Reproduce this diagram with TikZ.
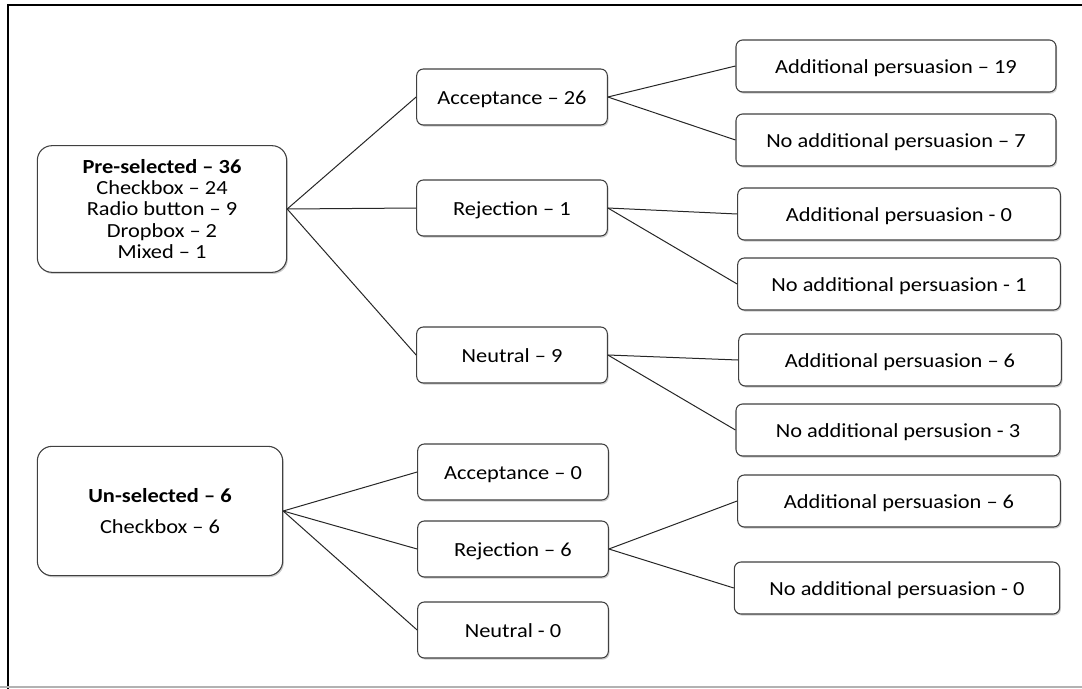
\documentclass[tikz,border=0pt]{standalone}
\usepackage{fontspec}
\setmainfont{Carlito}[FakeStretch=1.12]
\usetikzlibrary{shadows}

\tikzset{
  box/.style={draw=black!75, line width=0.8pt, rounded corners=5pt, fill=white,
    align=center, inner sep=2pt, font=\fontsize{15}{15.8}\selectfont,
    drop shadow={shadow xshift=0.9pt, shadow yshift=-1.2pt, opacity=0.4}},
  midbox/.style={box, minimum width=143pt, minimum height=42pt, text height=1.3em, text depth=0.25em},
  endbox/.style={box, minimum width=240pt, minimum height=39pt, text height=1.3em, text depth=0.25em},
  rootbox/.style={box, rounded corners=11pt, minimum width=185pt, minimum height=95pt},
  link/.style={draw=black!85, line width=0.75pt},
}

\begin{document}
\begin{tikzpicture}[x=0.75pt,y=0.75pt,yscale=-1,xscale=1]
\useasboundingbox (0,0) rectangle (1082,689);

% frame
\draw[line width=1.6pt] (8,689) -- (8,5) -- (1082,5);
\draw[black!30, line width=1.6pt] (0,687) -- (1082,687);

% Pre-selected branch
\node[rootbox, minimum width=187pt] (pre) at (162,209) {\textbf{Pre-selected – 36}\\Checkbox – 24\\Radio button – 9\\Dropbox – 2\\Mixed – 1};

\node[midbox] (accA) at (512,97) {Acceptance – 26};
\node[midbox] (rejA) at (512,208) {Rejection – 1};
\node[midbox] (neuA) at (512,355) {Neutral – 9};

\node[endbox] (accAyes) at (896,66) {Additional persuasion – 19};
\node[endbox] (accAno) at (896,140) {No additional persuasion – 7};
\node[endbox, minimum width=242pt] (rejAyes) at (899,214) {Additional persuasion - 0};
\node[endbox, minimum width=242pt] (rejAno) at (899,284) {No additional persuasion - 1};
\node[endbox, minimum width=242pt] (neuAyes) at (900,360) {Additional persuasion – 6};
\node[endbox, minimum width=243pt] (neuAno) at (898,430) {No additional persusion - 3};

% Un-selected branch
\node[rootbox, minimum width=184pt, minimum height=97pt] (un) at (160,511) {\textbf{Un-selected – 6}\\[8pt]Checkbox – 6};

\node[midbox] (accB) at (513,472) {Acceptance – 0};
\node[midbox] (rejB) at (513,549) {Rejection – 6};
\node[midbox] (neuB) at (513,630) {Neutral - 0};

\node[endbox, minimum width=242pt] (rejByes) at (899,501) {Additional persuasion – 6};
\node[endbox, minimum width=244pt] (rejBno) at (897,588) {No additional persuasion - 0};

% connectors
\foreach \a/\b in {pre/accA, pre/rejA, pre/neuA,
                   accA/accAyes, accA/accAno, rejA/rejAyes, rejA/rejAno,
                   neuA/neuAyes, neuA/neuAno,
                   un/accB, un/rejB, un/neuB,
                   rejB/rejByes, rejB/rejBno}
  \draw[link] (\a.east) -- (\b.west);

\end{tikzpicture}
\end{document}
